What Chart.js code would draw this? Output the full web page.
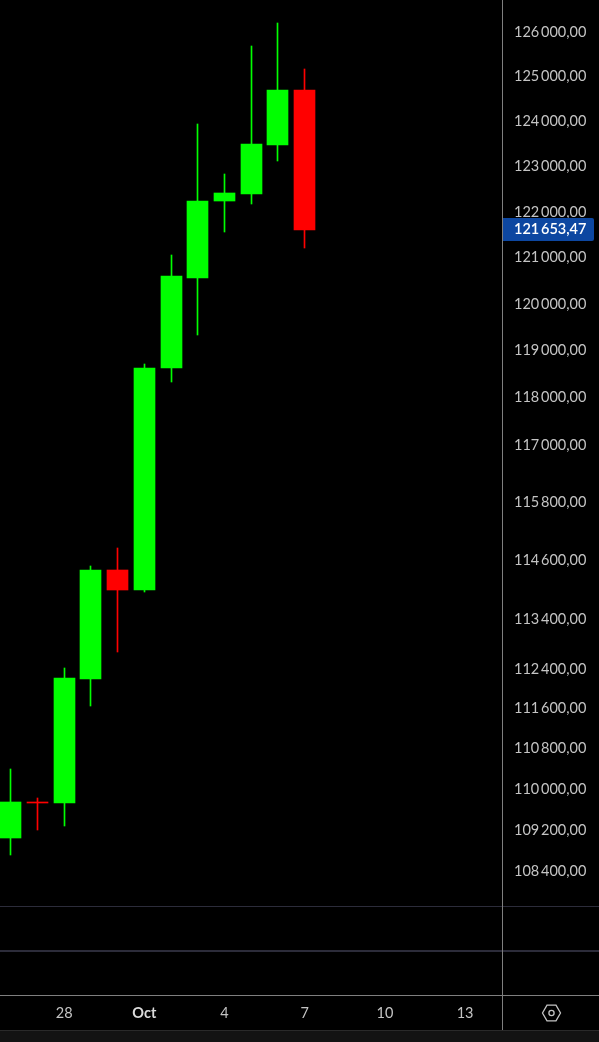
<!DOCTYPE html>
<html>
<head>
<meta charset="utf-8">
<title>Candles</title>
<style>
  html, body { margin: 0; padding: 0; background: #000; overflow: hidden; }
  #wrap { width: 599px; height: 1042px; position: relative; }
</style>
<script src="https://cdn.jsdelivr.net/npm/chart.js@4"></script>
</head>
<body>
<div id="wrap"><canvas id="chart"></canvas></div>
<script>
var opens  = [109047, 109748, 109728, 112198, 114410, 114003, 118632, 120563, 122238, 122393, 123472, 124696];
var highs  = [110402, 109827, 112419, 114492, 114863, 118715, 121060, 123938, 122832, 125684, 126203, 125167];
var lows   = [108716, 109204, 109282, 111652, 112742, 113962, 118334, 119336, 121561, 122173, 123119, 121213];
var closes = [109748, 109728, 112218, 114410, 114003, 118632, 120605, 122238, 122414, 123494, 124696, 121604];
var lastPrice = 121653.47;

var priceTicks = [126000, 125000, 124000, 123000, 122000, 121000, 120000, 119000, 118000, 117000,
  115800, 114600, 113400, 112400, 111600, 110800, 110000, 109200, 108400];
var dayTicks = [2, 5, 8, 11, 14, 17];
var dayLabels = ["28", "Oct", "4", "7", "10", "13"];

var UP = "#00ff00";
var DOWN = "#ff0000";
var FONT = "Lato";

function candleColor(i) {
  return closes[i] >= opens[i] ? UP : DOWN;
}

function formatPrice(v) {
  var parts = v.toFixed(2).split(".");
  return parts[0].replace(/\B(?=(\d{3})+$)/g, "\u2009") + "," + parts[1];
}

// snap bars to whole pixels, otherwise 1px wicks go blurry
var snapBars = {
  id: "snapBars",
  afterDatasetsUpdate: function (chart) {
    chart.data.datasets.forEach(function (ds, idx) {
      chart.getDatasetMeta(idx).data.forEach(function (el) {
        el.x = Math.floor(el.x) + 0.5;
        el.y = Math.round(el.y);
        el.base = Math.round(el.base);
        if (el.y === el.base) el.base = el.y + 1;
      });
    });
  },
};

var paneLines = {
  id: "paneLines",
  beforeDraw: function (chart) {
    var c = chart.ctx;
    c.save();
    c.fillStyle = "#000";
    c.fillRect(0, 0, chart.width, chart.height);
    c.restore();
  },
  afterDraw: function (chart) {
    var c = chart.ctx;
    var area = chart.chartArea;
    var axisX = area.right;
    var axisY = area.bottom;
    c.save();
    c.fillStyle = "#2c2c3a";
    c.fillRect(0, 906, chart.width, 1);
    c.fillRect(0, 950, chart.width, 2);
    c.fillStyle = "#131313";
    c.fillRect(0, 1030, chart.width, 12);
    c.fillStyle = "#2a2a2a";
    c.fillRect(0, 1030, chart.width, 1);
    c.fillStyle = "#7f7f7f";
    c.fillRect(0, axisY, chart.width, 1);
    c.fillRect(axisX, 0, 1, 1030);

    // last price tag
    var tagY = Math.round(chart.scales.y.getPixelForValue(lastPrice));
    c.fillStyle = "#0d47a1";
    c.beginPath();
    c.roundRect(axisX + 1, tagY - 10, 91, 23, [0, 2, 2, 0]);
    c.fill();
    c.fillStyle = "#ffffff";
    c.font = "600 14.5px " + FONT;
    c.textBaseline = "middle";
    c.fillText(formatPrice(lastPrice), 514, tagY + 1);

    // settings hexagon
    var cx = 551.5, cy = 1013, r = 9;
    c.strokeStyle = "#c4c4c4";
    c.lineWidth = 1.3;
    c.beginPath();
    for (var i = 0; i < 6; i++) {
      var a = (Math.PI / 3) * i;
      var px = cx + r * Math.cos(a);
      var py = cy + r * Math.sin(a);
      if (i === 0) c.moveTo(px, py); else c.lineTo(px, py);
    }
    c.closePath();
    c.stroke();
    c.beginPath();
    c.arc(cx, cy, 2.6, 0, Math.PI * 2);
    c.stroke();
    c.restore();
  },
};

function toPoints(a, b) {
  return a.map(function (v, i) { return { x: i, y: [v, b[i]] }; });
}

var colors = opens.map(function (_, i) { return candleColor(i); });

new Chart(document.getElementById("chart"), {
  type: "bar",
  data: {
    datasets: [
      { label: "body", data: toPoints(opens, closes), backgroundColor: colors, barThickness: 21, grouped: false, order: 1 },
      { label: "wick", data: toPoints(lows, highs), backgroundColor: colors, barThickness: 1, grouped: false, order: 2 },
    ],
  },
  options: {
    responsive: true,
    maintainAspectRatio: false,
    animation: false,
    layout: { padding: 0 },
    plugins: { legend: { display: false }, tooltip: { enabled: false } },
    scales: {
      x: {
        type: "linear",
        offset: false,
        min: -0.39955,
        max: 18.3809,
        grid: { display: false, drawTicks: false },
        border: { display: false },
        afterFit: function (scale) {
          scale.height = 47;
          scale.paddingLeft = 0;
          scale.paddingRight = 0;
        },
        afterBuildTicks: function (scale) {
          scale.ticks = dayTicks.map(function (v) { return { value: v }; });
        },
        ticks: {
          autoSkip: false,
          maxRotation: 0,
          padding: 10,
          color: function (ctx) { return ctx.index === 1 ? "#dcdcdc" : "#c4c4c4"; },
          font: function (ctx) {
            return { family: FONT, size: 14.5, weight: ctx.index === 1 ? "bold" : "normal" };
          },
          callback: function (v) { return dayLabels[dayTicks.indexOf(v)]; },
        },
      },
      y: {
        type: "logarithmic",
        position: "right",
        min: 106014,
        max: 126725,
        grid: { display: false, drawTicks: false },
        border: { display: false },
        afterFit: function (scale) {
          scale.width = 97;
          scale.paddingTop = 0;
          scale.paddingBottom = 0;
        },
        afterBuildTicks: function (scale) {
          scale.ticks = priceTicks.map(function (v) { return { value: v }; });
        },
        ticks: {
          autoSkip: false,
          padding: 12,
          color: "#c4c4c4",
          font: { family: FONT, size: 14.5 },
          callback: function (v) { return formatPrice(v); },
        },
      },
    },
  },
  plugins: [snapBars, paneLines],
});
</script>
</body>
</html>
